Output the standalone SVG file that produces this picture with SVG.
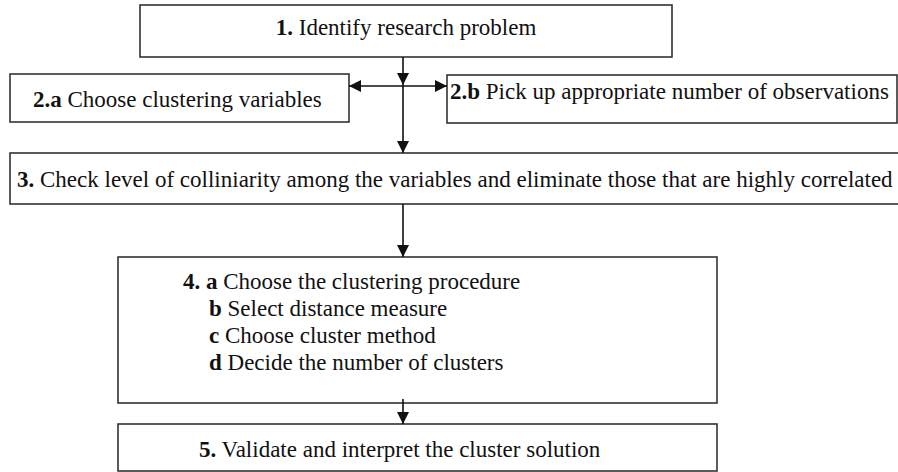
<svg xmlns="http://www.w3.org/2000/svg" width="898" height="472" viewBox="0 0 898 472">
<style>
.box{fill:#fff;stroke:#333;stroke-width:1.6}
.t{font-size:23px;fill:#111}
.b{font-weight:bold}
.c{stroke:#111;stroke-width:1.6;fill:none}
</style>
<defs>
<marker id="ah" viewBox="0 0 12 12" refX="12" refY="6" markerWidth="12" markerHeight="12" markerUnits="userSpaceOnUse" orient="auto">
<path d="M0,0 L12,6 L0,12 z" fill="#111"/>
</marker>
</defs>
<rect width="898" height="472" fill="#fff"/>
<g font-family="'Liberation Serif', 'DejaVu Serif', serif">
<g id="n1">
<rect class="box" x="140" y="5" width="532" height="52"/>
<text class="t" x="406" y="35" text-anchor="middle"><tspan class="b">1.</tspan> Identify research problem</text>
</g>
<g id="n2a">
<rect class="box" x="10" y="74" width="339" height="48"/>
<text class="t" x="33" y="107"><tspan class="b">2.a</tspan> Choose clustering variables</text>
</g>
<g id="n2b">
<rect class="box" x="447" y="75" width="450" height="48"/>
<text class="t" x="450" y="99"><tspan class="b">2.b</tspan> Pick up appropriate number of observations</text>
</g>
<g id="n3">
<rect class="box" x="10" y="153" width="892" height="51"/>
<text class="t" x="17" y="187"><tspan class="b">3.</tspan> Check level of colliniarity among the variables and eliminate those that are highly correlated</text>
</g>
<g id="n4">
<rect class="box" x="118" y="257" width="599" height="146"/>
<text class="t" x="183" y="289"><tspan class="b">4. a</tspan> Choose the clustering procedure</text>
<text class="t" x="209" y="316"><tspan class="b">b</tspan> Select distance measure</text>
<text class="t" x="209" y="343"><tspan class="b">c</tspan> Choose cluster method</text>
<text class="t" x="209" y="370"><tspan class="b">d</tspan> Decide the number of clusters</text>
</g>
<g id="n5">
<rect class="box" x="118" y="424" width="599" height="47"/>
<text class="t" x="199" y="457"><tspan class="b">5.</tspan> Validate and interpret the cluster solution</text>
</g>
</g>
<g id="connectors">
<line class="c" x1="403" y1="57" x2="403" y2="85" marker-end="url(#ah)"/>
<line class="c" x1="403" y1="85" x2="403" y2="153" marker-end="url(#ah)"/>
<line class="c" x1="403" y1="86" x2="349" y2="86" marker-end="url(#ah)"/>
<line class="c" x1="403" y1="86" x2="447" y2="86" marker-end="url(#ah)"/>
<line class="c" x1="403" y1="204" x2="403" y2="257" marker-end="url(#ah)"/>
<line class="c" x1="403" y1="399" x2="403" y2="424" marker-end="url(#ah)"/>
</g>
</svg>
